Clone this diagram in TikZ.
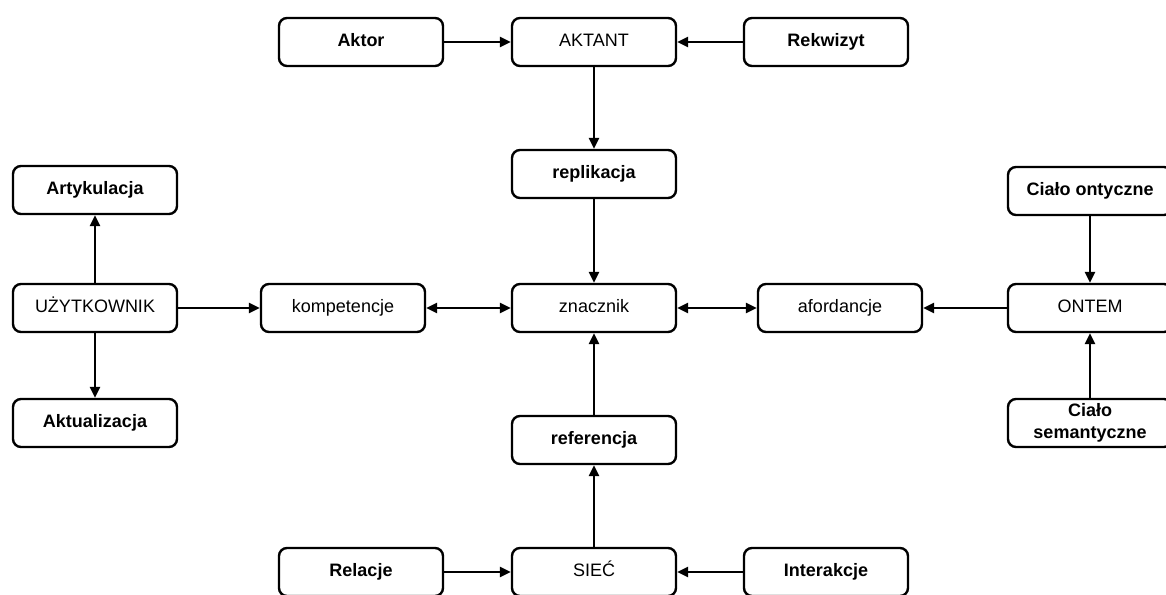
\documentclass[tikz,border=0pt]{standalone}
\usepackage{fontspec}
\setmainfont{Liberation Sans}
\usetikzlibrary{arrows.meta}
\begin{document}
\begin{tikzpicture}[x=1pt,y=-1pt,
  box/.style={draw, line width=2.4pt, rounded corners=8pt, minimum width=164pt,
    minimum height=48pt, align=center, inner sep=2pt,
    text height=13pt, text depth=4pt,
    font=\fontsize{18}{22}\selectfont},
  bbox/.style={box, font=\fontsize{18}{22}\selectfont\bfseries},
  twoline/.style={bbox, text height=, text depth=},
  link/.style={line width=2.4pt, -{Triangle[length=11pt,width=10pt]}},
  both/.style={line width=2.4pt, {Triangle[length=11pt,width=10pt]}-{Triangle[length=11pt,width=10pt]}}]
\useasboundingbox (0,0) rectangle (1166,594);
\clip (0,0) rectangle (1166,594);

% top row
\node[bbox] (aktor) at (361,42) {Aktor};
\node[box]  (aktant) at (594,42) {AKTANT};
\node[bbox] (rekw) at (826,42) {Rekwizyt};
\node[bbox] (repl) at (594,174) {replikacja};

% left column
\node[bbox] (art) at (95,190) {Artykulacja};
\node[box]  (uzyt) at (95,308) {UŻYTKOWNIK};
\node[bbox] (aktu) at (95,423) {Aktualizacja};

% middle row
\node[box] (komp) at (343,308) {kompetencje};
\node[box] (znac) at (594,308) {znacznik};
\node[box] (afor) at (840,308) {afordancje};

% right column
\node[bbox] (cont) at (1090,191) {Ciało ontyczne};
\node[box]  (ontem) at (1090,308) {ONTEM};
\node[twoline] (csem) at (1090,423) {Ciało\\semantyczne};

% bottom row
\node[bbox] (ref) at (594,440) {referencja};
\node[bbox] (rel) at (361,572) {Relacje};
\node[box]  (siec) at (594,572) {SIEĆ};
\node[bbox] (inter) at (826,572) {Interakcje};

% connectors
\draw[link] (aktor) -- (aktant);
\draw[link] (rekw) -- (aktant);
\draw[link] (aktant) -- (repl);
\draw[link] (repl) -- (znac);
\draw[link] (uzyt) -- (art);
\draw[link] (uzyt) -- (aktu);
\draw[link] (uzyt) -- (komp);
\draw[both] (komp) -- (znac);
\draw[both] (znac) -- (afor);
\draw[link] (ontem) -- (afor);
\draw[link] (cont) -- (ontem);
\draw[link] (csem) -- (ontem);
\draw[link] (ref) -- (znac);
\draw[link] (siec) -- (ref);
\draw[link] (rel) -- (siec);
\draw[link] (inter) -- (siec);
\end{tikzpicture}
\end{document}
